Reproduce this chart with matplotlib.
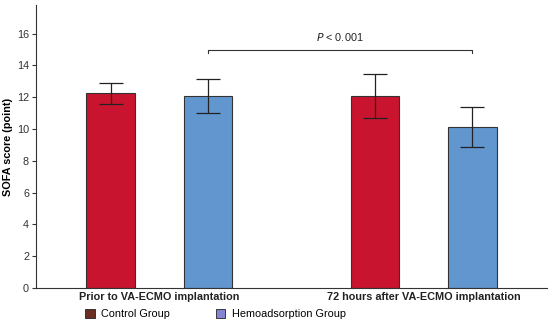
import matplotlib.pyplot as plt
import matplotlib.patches as mpatches
import numpy as np

plt.rcParams["font.family"] = ["Liberation Sans", "DejaVu Sans"]

groups = ["Prior to VA-ECMO implantation", "72 hours after VA-ECMO implantation"]
control_mean = [12.25, 12.07]
control_err = [0.67, 1.40]
hemo_mean = [12.07, 10.13]
hemo_err = [1.07, 1.25]
yticks = np.arange(0, 17, 2)
p_text = "$\\mathit{P}$ < 0.001"

red = "#C8142E"
blue = "#6296CF"
fs = 7.8

fig = plt.figure(figsize=(5.5, 3.23), dpi=100)
ax = fig.add_axes([36 / 550, 1 - 288 / 323, 511 / 550, 283 / 323])

x = np.arange(len(groups))
off = 0.1843
w = 0.185

ax.bar(x - off, control_mean, w, color=red, edgecolor="#333333", linewidth=0.8, zorder=2)
ax.bar(x + off, hemo_mean, w, color=blue, edgecolor="#333333", linewidth=0.8, zorder=2)
ax.errorbar(x - off, control_mean, yerr=control_err, fmt="none", ecolor="#222222",
            elinewidth=0.9, capsize=8.7, capthick=0.9, zorder=3)
ax.errorbar(x + off, hemo_mean, yerr=hemo_err, fmt="none", ecolor="#222222",
            elinewidth=0.9, capsize=8.7, capthick=0.9, zorder=3)

# significance bracket between the two hemoadsorption bars
bx = [x[0] + off, x[1] + off]
ax.plot([bx[0], bx[0], bx[1], bx[1]], [14.75, 15.0, 15.0, 14.75], color="#333333", lw=0.8)
ax.text(np.mean(bx), 15.4, p_text, ha="center", va="bottom", fontsize=fs, color="#222222")

ax.set_xlim(-0.466, 1.466)
ax.set_ylim(0, 17.8)
ax.set_yticks(yticks)
ax.set_xticks(x)
ax.set_xticklabels(groups, fontsize=fs, fontweight="bold", color="#222222")
ax.tick_params(axis="x", length=0, pad=3)
ax.tick_params(axis="y", length=3, labelsize=fs, labelcolor="#333333", color="#333333", pad=2)
ax.set_ylabel("SOFA score (point)", fontsize=fs, fontweight="bold", labelpad=3)
for s in ["top", "right"]:
    ax.spines[s].set_visible(False)
for s in ["left", "bottom"]:
    ax.spines[s].set_color("#333333")
    ax.spines[s].set_linewidth(0.8)

handles = [mpatches.Patch(facecolor="#6B2E22", edgecolor="#222222", linewidth=0.6, label="Control Group"),
           mpatches.Patch(facecolor="#8485D2", edgecolor="#222222", linewidth=0.6, label="Hemoadsorption Group")]
fig.legend(handles=handles, loc="center left", bbox_to_anchor=(85 / 550, 1 - 314 / 323), ncol=2,
           frameon=False, fontsize=fs, handlelength=0.9, handleheight=0.9, handletextpad=0.6,
           columnspacing=4.2, borderaxespad=0, borderpad=0)

fig.savefig("out.png", dpi=100)
